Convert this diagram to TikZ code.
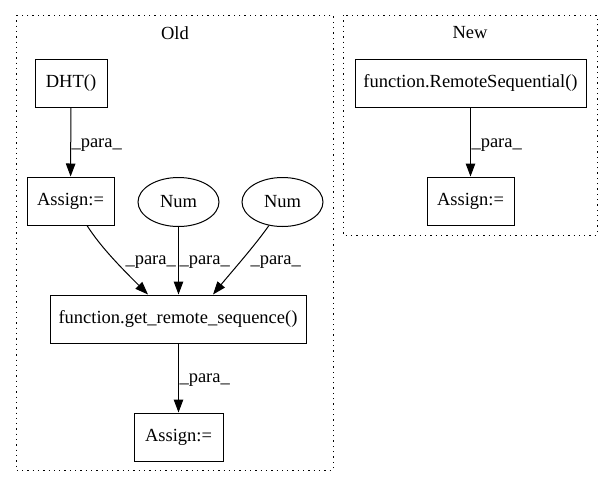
\documentclass[tikz,border=0pt]{standalone}
\usepackage{fontspec}
\setmainfont{Liberation Serif}
\usetikzlibrary{arrows.meta,
                shapes.geometric,
                positioning}

\begin{document}
\begin{tikzpicture}[x=1pt,y=-1pt,line width=1pt,
  font=\fontsize{18.5}{21}\selectfont,
  box/.style={draw,rectangle,minimum height=48pt,inner sep=0pt},
  num/.style={draw,ellipse,minimum width=81pt,minimum height=49pt,inner sep=0pt},
  cluster/.style={draw,dash pattern=on 1.3pt off 4pt},
  para/.style={-{Triangle[length=13pt,width=9.5pt]}},
  lbl/.style={inner sep=0pt,anchor=west}]
\useasboundingbox (0,0) rectangle (613,488);
% clusters
\draw [cluster] (16,15) rectangle (333,470);
\draw [cluster] (343,15) rectangle (597,235);
\node (old) at (175,33) {Old};
\node (new) at (470,33) {New};
% old
\node [box,minimum width=72pt] (DHT) at (71,83) {DHT()};
\node [box,minimum width=87pt] (A1) at (70.5,201) {Assign:=};
\node [num] (N1) at (178.5,202) {Num};
\node [num] (N2) at (282.5,202) {Num};
\node [box,minimum width=256pt] (get) at (178,319) {function.get\_remote\_sequence()};
\node [box,minimum width=89pt] (A2) at (178.5,437) {Assign:=};
% new
\node [box,minimum width=231pt] (RS) at (470.5,83) {function.RemoteSequential()};
\node [box,minimum width=87pt] (A3) at (470.5,201) {Assign:=};
% edges
\draw [para] (DHT) -- (A1);
\draw [para] ([xshift=16.5pt]A1.south) .. controls +(14,22) and +(-26,-26) .. ([xshift=-30pt]get.north);
\draw [para] (N1.south) -- (N1.south |- get.north);
\draw [para] (N2.240) .. controls +(-14,20) and +(18,-22) .. ([xshift=35pt]get.north);
\draw [para] (A2.north |- get.south) -- (A2);
\draw [para] (RS) -- (A3);
% labels
\node [lbl] (l1) at (71,145) {\_para\_};
\node [lbl] (l2) at (125,262) {\_para\_};
\node [lbl] (l3) at (179,262) {\_para\_};
\node [lbl] (l4) at (250,262) {\_para\_};
\node [lbl] (l5) at (179,380) {\_para\_};
\node [lbl] (l6) at (471,145) {\_para\_};
\end{tikzpicture}
\end{document}
